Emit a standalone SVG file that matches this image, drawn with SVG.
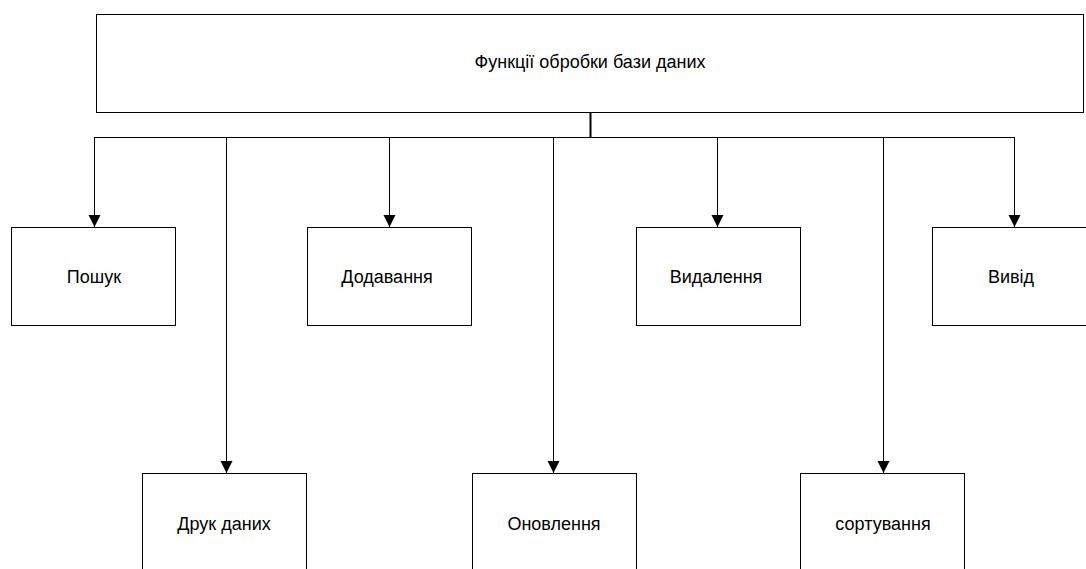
<svg xmlns="http://www.w3.org/2000/svg" width="1086" height="569" viewBox="0 0 1086 569">
  <style>
    .box { fill: #ffffff; stroke: #000000; stroke-width: 1; }
    .label { font-family: "Liberation Sans", Arial, sans-serif; font-size: 18px; fill: #000000; text-anchor: middle; }
    .link { fill: none; stroke: #000000; stroke-width: 1; }
    .trunk { fill: none; stroke: #000000; stroke-width: 2; }
  </style>
  <defs>
    <marker id="arrow" markerWidth="14" markerHeight="14" refX="12" refY="6" orient="auto" markerUnits="userSpaceOnUse">
      <path d="M0,0 L12,6 L0,12 Z" fill="#000000"/>
    </marker>
  </defs>
  <rect width="1086" height="569" fill="#ffffff"/>

  <g id="connectors">
    <line class="trunk" x1="590.5" y1="113" x2="590.5" y2="137.5"/>
    <line class="link" x1="94" y1="137.5" x2="1015" y2="137.5"/>
    <line class="link" x1="94.5" y1="137.5" x2="94.5" y2="227" marker-end="url(#arrow)"/>
    <line class="link" x1="226.5" y1="137.5" x2="226.5" y2="473" marker-end="url(#arrow)"/>
    <line class="link" x1="389.5" y1="137.5" x2="389.5" y2="227" marker-end="url(#arrow)"/>
    <line class="link" x1="553.5" y1="137.5" x2="553.5" y2="473" marker-end="url(#arrow)"/>
    <line class="link" x1="717.5" y1="137.5" x2="717.5" y2="227" marker-end="url(#arrow)"/>
    <line class="link" x1="883.5" y1="137.5" x2="883.5" y2="473" marker-end="url(#arrow)"/>
    <line class="link" x1="1014.5" y1="137.5" x2="1014.5" y2="227" marker-end="url(#arrow)"/>
  </g>

  <g id="root">
    <rect class="box" x="96.5" y="14.5" width="987" height="98"/>
    <text class="label" x="590" y="68">Функції обробки бази даних</text>
  </g>

  <g id="search">
    <rect class="box" x="11.5" y="227.5" width="164" height="98"/>
    <text class="label" x="94" y="283">Пошук</text>
  </g>
  <g id="add">
    <rect class="box" x="307.5" y="227.5" width="164" height="98"/>
    <text class="label" x="387" y="283">Додавання</text>
  </g>
  <g id="delete">
    <rect class="box" x="636.5" y="227.5" width="164" height="98"/>
    <text class="label" x="716" y="283">Видалення</text>
  </g>
  <g id="output">
    <rect class="box" x="932.5" y="227.5" width="164" height="98"/>
    <text class="label" x="1011" y="283">Вивід</text>
  </g>

  <g id="print">
    <rect class="box" x="142.5" y="473.5" width="164" height="98"/>
    <text class="label" x="224" y="530">Друк даних</text>
  </g>
  <g id="update">
    <rect class="box" x="472.5" y="473.5" width="164" height="98"/>
    <text class="label" x="554" y="530">Оновлення</text>
  </g>
  <g id="sort">
    <rect class="box" x="800.5" y="473.5" width="164" height="98"/>
    <text class="label" x="883" y="530">сортування</text>
  </g>
</svg>
